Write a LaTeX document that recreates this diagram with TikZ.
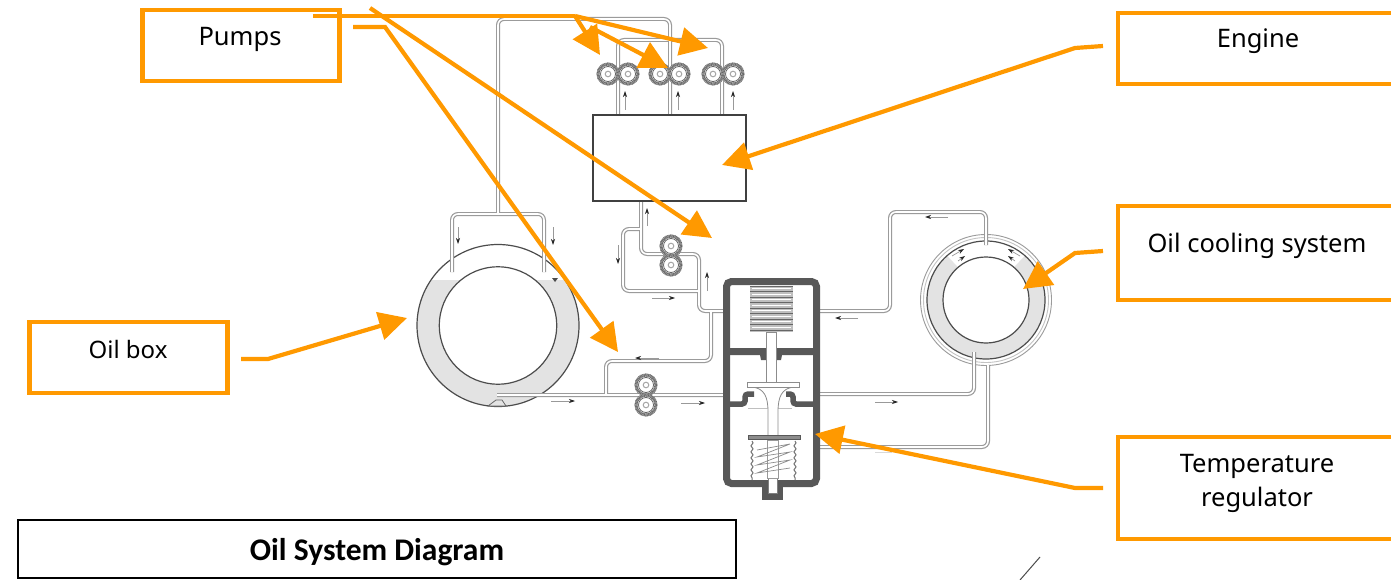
\documentclass[tikz,border=0pt]{standalone}
\usepackage{fontspec}
\setmainfont{Noto Sans}
\newfontfamily\titlefont{Carlito}
\usetikzlibrary{arrows.meta,decorations.pathmorphing}
\definecolor{callout}{RGB}{255,153,0}
\definecolor{wall}{RGB}{88,88,88}
\definecolor{linegray}{RGB}{155,155,155}
\definecolor{oilgray}{RGB}{227,227,227}
\tikzset{
  labelbox/.style={draw=callout,line width=4.5pt,fill=white,inner sep=0pt},
  labeltext/.style={font=\fontsize{25.5}{34}\selectfont,text=black,inner sep=0pt,align=center},
  calloutarrow/.style={draw=callout,line width=4.2pt,-{Triangle[length=28pt,width=28pt]}},
  calloutline/.style={draw=callout,line width=4.2pt},
  pipe/.style={draw=linegray,line width=1.2pt,double=white,double distance=1.6pt,rounded corners=6pt},
  flow/.style={draw=black!40,line width=.7pt,-{Stealth[length=6pt,width=4pt,black!85]}},
  ringline/.style={draw=black!70,line width=1.2pt},
  wallline/.style={draw=wall,line width=7pt},
  pics/pumpwheel/.style={code={
    \draw[fill=white,draw=black!30,line width=3pt] (0,0) circle[radius=10];
    \draw[draw=black!60,line width=3pt,dash pattern=on .7pt off .7pt] (0,0) circle[radius=10];
    \draw[fill=white,draw=black!60,line width=.8pt] (0,0) circle[radius=7.5];
    \draw[draw=black!35,line width=1pt] (0,0) circle[radius=2.8];
  }}
}
\begin{document}
\begin{tikzpicture}[x=1pt,y=-1pt]
\useasboundingbox[fill=white] (0,0) rectangle (1391,580);

% oil box
\begin{scope}
  \clip (400,280) rectangle (600,420);
  \fill[oilgray] (498,325.5) circle[radius=81];
\end{scope}
\draw[ringline] (498,325.5) circle[radius=81];
\draw[ringline,fill=white] (498,325.5) circle[radius=58.7];

% cooling ring
\draw[draw=linegray,line width=.9pt] (986,300) circle[radius=65.5];
\draw[draw=linegray!60,line width=.9pt] (986,300) circle[radius=62.5];
\draw[oilgray,line width=16pt] ([shift={(-49:51)}]986,300) arc[start angle=-49,end angle=229,radius=51];
\draw[ringline] (986,300) circle[radius=59];
\draw[ringline] (986,300) circle[radius=43];

% pipes, all one path so that the junctions are open
\draw[pipe]
  (452,272) -- (452,214) -- (544,214) -- (544,272)
  (498,214) -- (498,19) -- (670,19) -- (670,115)
  (618,115) -- (618,40) -- (722,40) -- (722,115)
  (641,201) -- (641,254) -- (699,254) -- (699,311) -- (723,311)
  (641,229) -- (623,229) -- (623,291) -- (699,291)
  (711,311) -- (711,361) -- (606,361) -- (606,395)
  (497,395) -- (723,395)
  (820,311) -- (890,311) -- (890,212) -- (986,212) -- (986,245)
  (820,394) -- (974,394) -- (974,352)
  (820,447) -- (988,447) -- (988,365);
\draw[draw=black!60,fill=oilgray,line width=.8pt] (488,406) -- (496,400) -- (502,400) -- (506,406) -- cycle;

% engine
\node[draw=black!75,line width=1.2pt,fill=white,minimum width=153pt,minimum height=86pt,inner sep=0pt] (engine) at (669.5,158) {};

% pumps
\pic at (608,74) {pumpwheel};
\pic at (628,74) {pumpwheel};
\pic at (660,74) {pumpwheel};
\pic at (679,74) {pumpwheel};
\pic at (713,74) {pumpwheel};
\pic at (733,74) {pumpwheel};
\pic at (671,246) {pumpwheel};
\pic at (671,265) {pumpwheel};
\pic at (646,385) {pumpwheel};
\pic at (646,405) {pumpwheel};

% regulator
\draw[wallline,fill=white,rounded corners=5pt] (726.5,281.5) rectangle (816.5,483.5);
\fill[wall] (727,348) -- (766,348) -- (766,360) -- (761,360) -- (760,355) -- (727,355) -- cycle;
\fill[wall] (816,348) -- (776,348) -- (776,360) -- (781,360) -- (782,355) -- (816,355) -- cycle;
\draw[wall,line width=5.5pt,rounded corners=3pt] (727,404) -- (745,404) -- (745,394) -- (754,394);
\draw[wall,line width=5.5pt,rounded corners=3pt] (816,404) -- (793,404) -- (793,394) -- (786,394);
\draw[draw=black!25,line width=.7pt] (748,408) -- (792,408);
\fill[wall] (762,486) rectangle (783,500);
\fill[white] (768,477) rectangle (777,493);
\draw[draw=black!50,line width=.7pt] (768,477) -- (768,493) -- (777,493) -- (777,477);
% upper bellows
\fill[black!25] (750,286) rectangle (793,332);
\foreach \yy in {286,291.5,...,332.5}{\draw[draw=black!60,line width=1pt] (750,\yy) -- (793,\yy);}
\foreach \yy in {288.7,294.2,...,330}{\draw[draw=white,line width=1.2pt] (752,\yy) -- (791,\yy);}
% stem and valve
\draw[draw=black!45,line width=.8pt,fill=white] (766,332) rectangle (776,382);
\draw[draw=black!45,line width=.8pt,fill=white] (753,387) .. controls (764,389) and (768,396) .. (768,412) -- (768,436) -- (778,436) -- (778,412) .. controls (778,396) and (782,389) .. (793,387) -- cycle;
\draw[draw=black!45,line width=.8pt,fill=white] (747,382) rectangle (799,387);
% lower bellows and spring
\draw[draw=black!55,line width=1pt,decorate,decoration={snake,amplitude=1pt,segment length=6pt}] (752,441) -- (752,480);
\draw[draw=black!55,line width=1pt,decorate,decoration={snake,amplitude=1pt,segment length=6pt}] (795,441) -- (795,480);
\draw[draw=black!40,line width=.7pt,fill=white] (767,440) rectangle (778,478);
\draw[draw=black!45,line width=.7pt] (757,450) -- (790,444) -- (757,457) -- (790,452) -- (757,465) -- (790,460) -- (757,473) -- (790,468);
\draw[draw=wall,fill=black!45,line width=1pt] (748,435.5) rectangle (800,439.5);

% small flow arrows
\draw[flow] (625,110) -- (625,91);
\draw[flow] (678,110) -- (678,91);
\draw[flow] (733,110) -- (733,91);
\draw[flow] (458,227) -- (458,244);
\draw[flow] (553,227) -- (553,245);
\draw[flow] (647,226) -- (647,208);
\draw[flow] (618,245) -- (618,264);
\draw[flow] (652,298) -- (675,298);
\draw[flow] (707,291) -- (707,272);
\draw[flow] (659,358) -- (635,358);
\draw[flow] (551,401) -- (575,401);
\draw[flow] (681,403) -- (705,403);
\draw[flow] (858,318) -- (835,318);
\draw[flow] (948,217) -- (925,217);
\draw[flow] (875,402) -- (898,402);
\draw[flow] (952,256) -- (964,249);
\draw[flow] (958,261) -- (965,256);
\draw[flow] (1020,256) -- (1008,249);
\draw[flow] (1015,261) -- (1008,256);
\fill[black!70] (552,278) -- (558,278) -- (555,282) -- cycle;
\draw[draw=black!15,line width=.8pt] (875,452) -- (892,452);
\draw[draw=black!70,line width=1pt] (1040,557) -- (1020,580);

% label boxes
\node[labelbox,minimum width=197pt,minimum height=71pt] (pumpsbox) at (241,45.5) {};
\node[labelbox,minimum width=282pt,minimum height=71pt] (enginebox) at (1259,48.5) {};
\node[labelbox,minimum width=282pt,minimum height=94pt] (coolbox) at (1259,253) {};
\node[labelbox,minimum width=282pt,minimum height=102pt] (tempbox) at (1259,488) {};
\node[labelbox,minimum width=198pt,minimum height=71pt] (oilbox) at (128.5,357.5) {};
\node[draw=black,line width=1.4pt,fill=white,minimum width=718pt,minimum height=58pt,inner sep=0pt] (titlebox) at (377,549) {};

\node[labeltext] (pumpstext) at (240,39) {Pumps};
\node[labeltext] (enginetext) at (1258,41) {Engine};
\node[labeltext] (cooltext) at (1257,246) {Oil cooling system};
\node[labeltext] (temptext) at (1257,483) {Temperature\\regulator};
\node[labeltext,font=\fontsize{24}{30}\selectfont] (oiltext) at (128,349) {Oil box};
\node[inner sep=0pt,font=\titlefont\bfseries\fontsize{31.5}{34}\selectfont] (titletext) at (377,552) {Oil System Diagram};

% callouts
\coordinate (pumpA) at (313,16);
\coordinate (pumpB) at (353,27);
\coordinate (pumpBk) at (385,27);
\coordinate (pumpC) at (370,8);
\coordinate (hub) at (575,16);
\coordinate (hubB) at (590,27);
\coordinate (tip1) at (600,55);
\coordinate (tip2) at (668,68);
\coordinate (tip3) at (708,48);
\coordinate (tip4) at (618,352);
\coordinate (tip5) at (712,238);
\coordinate (engS) at (1103,46);
\coordinate (engK) at (1075,48);
\coordinate (engT) at (722,165);
\coordinate (coolS) at (1103,251);
\coordinate (coolK) at (1075,253);
\coordinate (coolT) at (1023,289);
\coordinate (tempS) at (1103,488);
\coordinate (tempK) at (1075,488);
\coordinate (tempT) at (815,434);
\coordinate (oilS) at (241,359);
\coordinate (oilK) at (268,359);
\coordinate (oilT) at (407,318);

\draw[calloutline] (pumpA) -- (hub);
\draw[calloutarrow] (hub) -- (tip1);
\draw[calloutarrow] (hub) -- (tip3);
\draw[calloutarrow] (hubB) -- (tip2);
\draw[calloutarrow] (pumpC) -- (tip5);
\draw[calloutarrow] (pumpB) -- (pumpBk) -- (tip4);
\draw[calloutarrow] (engS) -- (engK) -- (engT);
\draw[calloutarrow] (coolS) -- (coolK) -- (coolT);
\draw[calloutarrow] (tempS) -- (tempK) -- (tempT);
\draw[calloutarrow] (oilS) -- (oilK) -- (oilT);
\end{tikzpicture}
\end{document}
